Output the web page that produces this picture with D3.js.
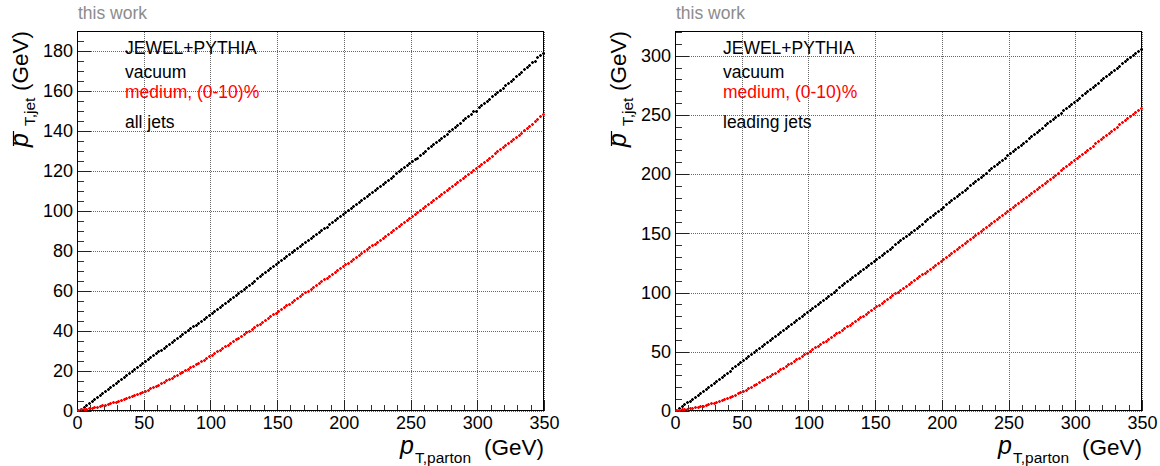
<!DOCTYPE html>
<html>
<head>
<meta charset="utf-8">
<script src="https://cdn.jsdelivr.net/npm/d3@7"></script>
<style>
  body { margin: 0; background: #fff; }
  svg text { font-family: "Liberation Sans", Arial, Helvetica, sans-serif; }
</style>
</head>
<body>
<div id="chart"></div>
<script>
// bin centres of the profile (GeV)
const ptParton = [
  1,3,5,7,9,11,13,15,17,19,21,23,25,27,29,31,33,35,37,39,41,43,45,47,49,
  51,53,55,57,59,61,63,65,67,69,71,73,75,77,79,81,83,85,87,89,91,93,95,97,99,
  101,103,105,107,109,111,113,115,117,119,121,123,125,127,129,131,133,135,137,139,141,143,145,147,149,
  151,153,155,157,159,161,163,165,167,169,171,173,175,177,179,181,183,185,187,189,191,193,195,197,199,
  201,203,205,207,209,211,213,215,217,219,221,223,225,227,229,231,233,235,237,239,241,243,245,247,249,
  251,253,255,257,259,261,263,265,267,269,271,273,275,277,279,281,283,285,287,289,291,293,295,297,299,
  301,303,305,307,309,311,313,315,317,319,321,323,325,327,329,331,333,335,337,339,341,343,345,347,349
];

// all jets
const vacuumAll = [
  0.4,1.2,2.1,3.0,4.0, 5.0,6.0,7.0,8.0,9.0, 10.0,11.0,12.0,13.0,14.0, 15.0,16.0,17.0,18.0,19.0, 20.0,21.0,22.0,22.9,23.9,
  24.9,25.9,26.9,27.8,28.8, 29.8,30.7,31.7,32.7,33.6, 34.6,35.5,36.5,37.5,38.4, 39.4,40.3,41.3,42.3,43.2, 44.2,45.1,46.1,47.1,48.0,
  49.0,50.0,51.0,52.0,53.0, 54.0,55.0,56.0,57.0,58.0, 59.0,60.0,61.1,61.8,63.1, 64.1,65.1,66.2,67.2,68.2, 69.2,70.3,71.3,72.3,73.4,
  74.4,75.4,76.4,77.3,78.3, 79.3,80.3,81.3,82.2,83.2, 84.2,85.2,86.2,87.2,88.2, 89.2,90.4,91.2,92.0,93.2, 94.2,95.2,96.2,97.2,98.2,
  99.2,100.2,101.3,102.3,103.3, 104.3,105.3,106.4,107.4,108.4, 109.4,110.4,111.5,112.5,113.5, 114.5,115.6,116.6,117.6,118.7, 119.7,120.8,121.8,122.8,123.9,
  124.9,126.0,126.6,128.0,129.1, 130.1,131.2,132.3,133.3,134.4, 135.4,136.5,137.6,138.6,139.7, 140.7,141.8,142.9,144.0,145.1, 146.1,147.2,148.3,149.6,150.0,
  151.9,152.7,153.8,154.9,155.9, 157.1,158.2,159.3,160.4,161.5, 162.7,163.8,164.9,166.0,167.1, 168.3,169.4,170.6,171.8,172.9, 174.4,175.0,176.8,177.6,178.8
];
const mediumAll = [
  0.7,0.8,1.0,1.2,1.4, 1.6,1.9,2.2,2.5,2.8, 3.1,3.5,3.9,4.3,4.7, 5.1,5.6,6.0,6.5,7.0, 7.5,8.0,8.5,9.0,9.5,
  10.1,10.7,11.4,12.0,12.6, 13.2,13.9,14.6,15.3,16.0, 16.7,17.4,18.1,18.8,19.5, 20.3,21.0,21.8,22.6,23.3, 24.1,24.9,25.7,26.5,27.3,
  28.1,29.0,29.8,30.6,31.5, 32.3,33.2,34.1,34.9,35.8, 36.6,37.5,38.4,39.3,40.2, 41.0,41.9,42.8,43.7,44.6, 45.5,46.4,47.3,48.2,49.1,
  50.0,50.9,51.8,52.7,53.6, 54.6,55.5,56.4,57.3,58.2, 59.2,60.1,61.0,61.9,62.8, 63.8,64.7,65.7,66.6,67.5, 68.5,69.4,70.4,71.3,72.2,
  73.2,74.1,75.1,76.0,76.9, 77.9,78.8,79.8,80.8,81.7, 82.7,83.6,84.6,85.6,86.5, 87.5,88.4,89.4,90.4,91.3, 92.3,93.3,94.3,95.2,96.2,
  97.2,98.2,99.2,100.2,101.2, 102.2,103.2,104.2,105.2,106.2, 107.2,108.2,109.3,110.3,111.3, 112.3,113.3,114.4,115.4,116.4, 117.4,118.4,119.5,120.5,121.5,
  122.5,123.5,124.6,125.6,126.6, 127.6,128.7,129.7,130.7,131.8, 132.8,133.9,134.9,135.9,137.0, 138.0,139.1,140.2,141.3,142.4, 143.5,144.7,145.9,147.1,148.3
];

// leading jets
const vacuumLead = [
  0.8,2.4,4.0,5.6,7.2, 8.8,10.5,12.2,13.8,15.5, 17.2,18.9,20.6,22.3,24.0, 25.7,27.4,29.1,30.8,32.5, 34.2,35.9,37.6,39.3,41.0,
  42.7,44.4,46.1,47.8,49.5, 51.2,52.9,54.6,56.3,58.0, 59.7,61.4,63.1,64.8,66.5, 68.2,69.9,71.6,73.3,75.0, 76.8,78.5,80.2,81.9,83.6,
  85.4,87.1,88.8,90.5,92.2, 94.0,95.7,97.4,99.1,100.8, 102.6,104.3,106.0,107.7,109.4, 111.2,112.9,114.6,116.3,118.0, 119.8,121.5,123.2,125.0,126.7,
  128.5,130.2,132.0,133.7,135.4, 137.2,138.9,140.7,142.5,144.2, 146.0,147.7,149.5,151.3,153.0, 154.8,156.6,158.3,160.1,161.9, 163.7,165.5,167.2,169.0,170.8,
  172.6,174.4,176.1,177.9,179.7, 181.5,183.3,185.1,186.9,188.7, 190.5,192.3,194.1,195.9,197.7, 199.5,201.3,203.1,204.9,206.7, 208.5,210.3,212.2,214.0,215.8,
  217.6,219.4,221.2,223.0,224.8, 226.6,228.4,230.2,232.0,233.8, 235.6,237.4,239.3,241.1,242.9, 244.7,246.5,248.4,250.2,252.0, 253.8,255.6,257.5,259.3,261.1,
  262.9,264.7,266.5,268.3,270.1, 271.9,273.7,275.5,277.3,279.1, 280.9,282.7,284.5,286.3,288.1, 289.9,291.7,293.5,295.3,297.1, 298.9,300.7,302.5,304.3,306.1
];
const mediumLead = [
  0.7,0.9,1.3,1.6,1.9, 2.2,2.7,3.1,3.5,4.0, 4.5,5.1,5.7,6.4,7.0, 7.7,8.5,9.3,10.2,11.0, 11.9,12.8,13.8,14.8,15.7,
  16.8,18.1,19.3,20.6,21.9, 23.2,24.5,25.8,27.1,28.4, 29.7,31.0,32.4,33.8,35.1, 36.5,37.9,39.3,40.7,42.1, 43.5,45.0,46.4,47.8,49.3,
  50.7,52.2,53.7,55.1,56.6, 58.0,59.5,61.0,62.5,64.0, 65.5,67.0,68.5,70.0,71.5, 73.0,74.5,76.0,77.5,79.0, 80.6,82.1,83.7,85.2,86.7,
  88.3,89.8,91.4,93.0,94.5, 96.1,97.7,99.3,100.8,102.4, 104.0,105.6,107.2,108.8,110.4, 112.0,113.6,115.3,116.9,118.5, 120.1,121.8,123.4,125.0,126.7,
  128.3,130.0,131.7,133.3,135.0, 136.6,138.3,140.0,141.6,143.3, 144.9,146.6,148.3,150.0,151.7, 153.4,155.1,156.8,158.5,160.2, 161.9,163.6,165.3,167.0,168.7,
  170.4,172.1,173.8,175.5,177.2, 178.9,180.6,182.3,184.0,185.7, 187.5,189.2,190.9,192.7,194.4, 196.2,197.9,199.6,201.4,203.1, 204.9,206.6,208.3,210.1,211.8,
  213.6,215.3,217.1,218.9,220.6, 222.4,224.2,226.0,227.7,229.5, 231.3,233.1,234.9,236.6,238.4, 240.2,242.0,243.8,245.5,247.3, 249.1,250.9,252.7,254.4,256.2
];

const xTicks = [0, 50, 100, 150, 200, 250, 300, 350];
const yTicksAll = [0, 20, 40, 60, 80, 100, 120, 140, 160, 180];
const yTicksLead = [0, 50, 100, 150, 200, 250, 300];
const legendAll = ["JEWEL+PYTHIA", "vacuum", "medium, (0-10)%", "all jets"];
const legendLead = ["JEWEL+PYTHIA", "vacuum", "medium, (0-10)%", "leading jets"];

const W = 1160, H = 466;
const frameTop = 31, frameBottom = 411, frameW = 467;

const svg = d3.select("#chart").append("svg")
  .attr("width", W)
  .attr("height", H);

function panel(left, yMax, yTicks, minorStep, vac, med, legend) {

  const right = left + frameW;
  const x = d3.scaleLinear().domain([0, 350]).range([left, right]);
  const y = d3.scaleLinear().domain([0, yMax]).range([frameBottom, frameTop]);

  const g = svg.append("g");

  // dotted grid
  const gx = g.append("g")
    .attr("transform", `translate(0,${frameBottom})`)
    .call(d3.axisBottom(x).tickValues(xTicks).tickSize(-(frameBottom - frameTop)).tickFormat(""));
  const gy = g.append("g")
    .attr("transform", `translate(${left},0)`)
    .call(d3.axisLeft(y).tickValues(yTicks).tickSize(-frameW).tickFormat(""));
  [gx, gy].forEach(a => {
    a.select(".domain").remove();
    a.selectAll("line")
      .attr("stroke", "#666")
      .attr("stroke-dasharray", "1,1")
      .attr("shape-rendering", "crispEdges");
  });

  // minor ticks
  const minorY = d3.range(0, yMax, minorStep);
  const minorX = d3.range(0, 351, 10);
  g.append("g")
    .attr("transform", `translate(${left},0)`)
    .call(d3.axisLeft(y).tickValues(minorY).tickSize(-7).tickFormat(""))
    .call(a => a.select(".domain").remove())
    .selectAll("line").attr("stroke", "#333").attr("shape-rendering", "crispEdges");
  g.append("g")
    .attr("transform", `translate(0,${frameBottom})`)
    .call(d3.axisBottom(x).tickValues(minorX).tickSize(-6).tickFormat(""))
    .call(a => a.select(".domain").remove())
    .selectAll("line").attr("stroke", "#333").attr("shape-rendering", "crispEdges");

  // major ticks + labels
  const ay = g.append("g")
    .attr("transform", `translate(${left},0)`)
    .call(d3.axisLeft(y).tickValues(yTicks).tickSize(-14).tickPadding(4).tickFormat(d3.format("d")));
  const ax = g.append("g")
    .attr("transform", `translate(0,${frameBottom})`)
    .call(d3.axisBottom(x).tickValues(xTicks).tickSize(-11.5).tickPadding(5).tickFormat(d3.format("d")));
  [ax, ay].forEach(a => {
    a.select(".domain").remove();
    a.attr("font-family", null).attr("font-size", null);
    a.selectAll("line").attr("stroke", "#222").attr("shape-rendering", "crispEdges");
    a.selectAll("text").attr("font-size", 18).attr("fill", "#000");
  });

  // frame
  g.append("rect")
    .attr("x", left + 0.5)
    .attr("y", frameTop + 0.5)
    .attr("width", frameW - 1)
    .attr("height", frameBottom - frameTop - 1)
    .attr("fill", "none")
    .attr("stroke", "#000")
    .attr("shape-rendering", "crispEdges");

  // markers
  const cross = "M-1.5,0H1.5M0,-1.5V1.5";
  const series = [
    { vals: vac, color: "#000" },
    { vals: med, color: "#ff0000" }
  ];
  series.forEach(s => {
    g.append("g")
      .selectAll("path")
      .data(ptParton.map((p, i) => [p, s.vals[i]]))
      .join("path")
      .attr("d", cross)
      .attr("transform", d => `translate(${Math.round(x(d[0])) + 0.5},${Math.round(y(d[1])) + 0.5})`)
      .attr("stroke", s.color)
      .attr("stroke-width", 1.3)
      .attr("fill", "none");
  });

  // "this work"
  g.append("text")
    .attr("x", left + 1)
    .attr("y", 19)
    .attr("font-size", 17.5)
    .attr("fill", "#8c8c8c")
    .text("this work");

  // legend text
  const legY = [53.5, 77.5, 97.5, 127.5];
  const legCol = ["#000", "#000", "#ff0000", "#000"];
  g.append("g")
    .selectAll("text")
    .data(legend)
    .join("text")
    .attr("x", left + 48)
    .attr("y", (d, i) => legY[i])
    .attr("font-size", 17.5)
    .attr("fill", (d, i) => legCol[i])
    .text(d => d);

  // x title
  g.append("text")
    .attr("x", right - 144)
    .attr("y", 454)
    .attr("font-family", "Liberation Serif, serif")
    .attr("font-style", "italic")
    .attr("font-size", 25)
    .text("p");
  g.append("text")
    .attr("x", right - 129)
    .attr("y", 463)
    .attr("font-size", 15.5)
    .text("T,parton");
  g.append("text")
    .attr("x", right)
    .attr("y", 455)
    .attr("text-anchor", "end")
    .attr("font-size", 22.5)
    .text("(GeV)");

  // y title (rotated)
  const yt = g.append("g")
    .attr("transform", `translate(${left - 49},0) rotate(-90)`);
  yt.append("text")
    .attr("x", -147)
    .attr("y", 0)
    .attr("font-family", "Liberation Serif, serif")
    .attr("font-style", "italic")
    .attr("font-size", 25)
    .text("p");
  yt.append("line")
    .attr("x1", -146).attr("x2", -131)
    .attr("y1", -14.5).attr("y2", -14.5)
    .attr("stroke", "#000")
    .attr("stroke-width", 1.2);
  yt.append("text")
    .attr("x", -126)
    .attr("y", 7)
    .attr("font-size", 15.5)
    .text("T,jet");
  yt.append("text")
    .attr("x", -frameTop)
    .attr("y", 0)
    .attr("text-anchor", "end")
    .attr("font-size", 22.5)
    .text("(GeV)");
}

panel(77, 189.8, yTicksAll, 5, vacuumAll, mediumAll, legendAll);
panel(675, 320.9, yTicksLead, 10, vacuumLead, mediumLead, legendLead);
</script>
</body>
</html>
